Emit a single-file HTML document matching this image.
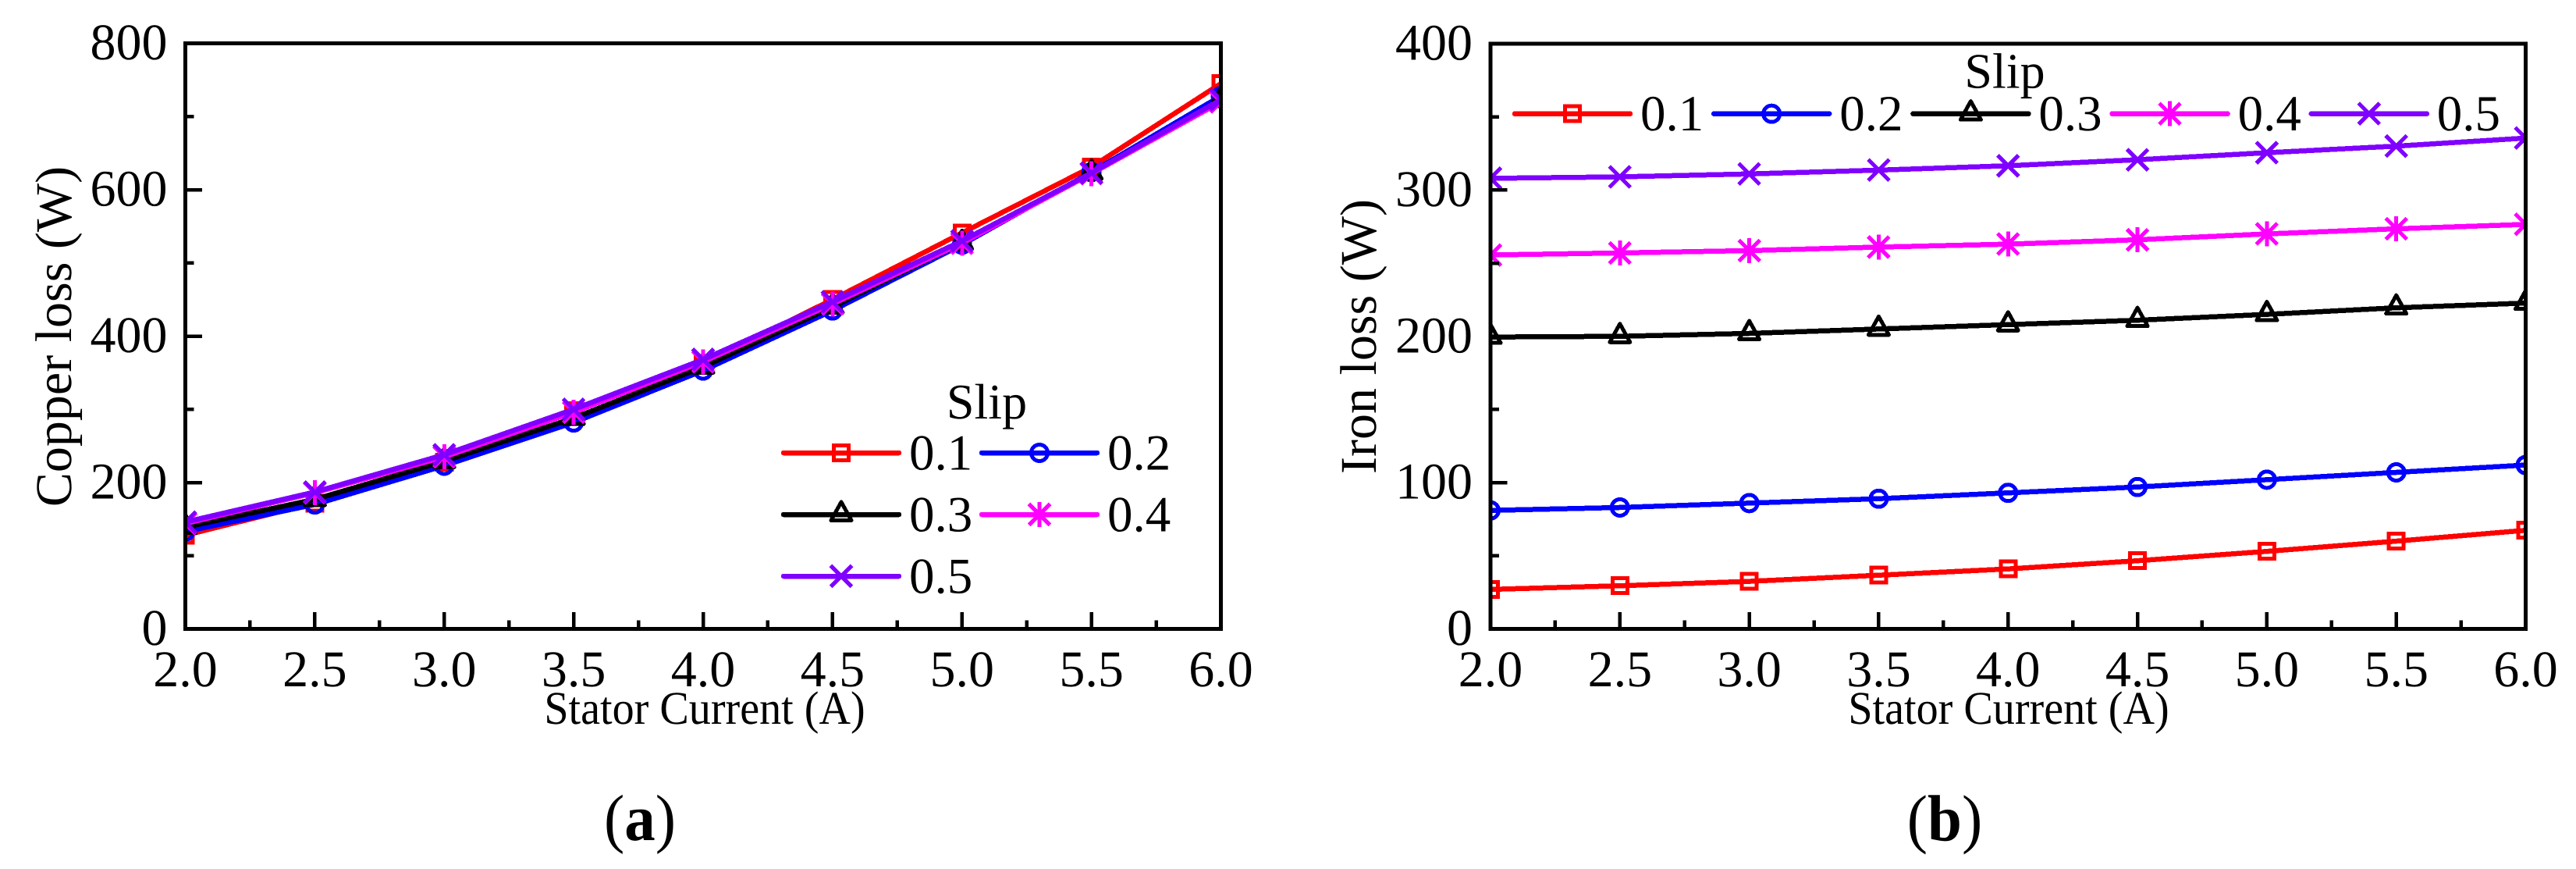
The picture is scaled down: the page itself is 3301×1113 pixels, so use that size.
<!DOCTYPE html>
<html lang="en">
<head>
<meta charset="utf-8">
<title>Copper loss and iron loss versus stator current</title>
<style>
html,body{margin:0;padding:0;background:#fff;}
body{width:3301px;height:1113px;overflow:hidden;}
svg{display:block;shape-rendering:crispEdges;}
text{font-family:"Liberation Serif","Times New Roman",serif;fill:#000;text-rendering:geometricPrecision;}
</style>
</head>
<body>
<svg id="figure" xmlns="http://www.w3.org/2000/svg" width="3301" height="1113" viewBox="0 0 3301 1113">
  <rect x="0" y="0" width="3301" height="1113" fill="#fff"/>
  <g id="panel-a"></g>
  <g id="panel-b"></g>

  <text font-size="66" text-anchor="middle" transform="translate(91 431) rotate(-90)">Copper loss (W)</text>
  <text font-size="60" text-anchor="middle" transform="translate(903 927) scale(0.935 1)">Stator Current (A)</text>
  <text font-size="64" text-anchor="middle" x="1264.5" y="536">Slip</text>
  <text font-size="84" text-anchor="middle" transform="translate(820 1076) scale(0.94 1)">(<tspan font-weight="bold">a</tspan>)</text>

  <text font-size="66" text-anchor="middle" transform="translate(1763 431) rotate(-90)">Iron loss (W)</text>
  <text font-size="60" text-anchor="middle" transform="translate(2574 927) scale(0.935 1)">Stator Current (A)</text>
  <text font-size="64" text-anchor="middle" x="2569" y="112.5">Slip</text>
  <text font-size="84" text-anchor="middle" transform="translate(2492 1076.5) scale(0.94 1)">(<tspan font-weight="bold">b</tspan>)</text>
</svg>

<script>
// Shared categories and labels
const statorCurrent = [2.0, 2.5, 3.0, 3.5, 4.0, 4.5, 5.0, 5.5, 6.0];
const xTickLabels = ['2.0', '2.5', '3.0', '3.5', '4.0', '4.5', '5.0', '5.5', '6.0'];
const slipLabels = ['0.1', '0.2', '0.3', '0.4', '0.5'];

// Panel (a): copper loss in watts
const copperSlip01 = [128, 172, 228, 298, 362, 450, 541, 631, 745];
const copperSlip02 = [133, 170, 223, 282, 353, 435, 525, 624, 728];
const copperSlip03 = [139, 177, 229, 288, 358, 440, 527, 623, 722];
const copperSlip04 = [144, 186, 235, 296, 365, 444, 527, 622, 720];
const copperSlip05 = [146, 187, 238, 300, 368, 447, 530, 623, 723];
const copperYTicks = [0, 200, 400, 600, 800];

// Panel (b): iron loss in watts
const ironSlip01 = [27, 29.5, 32.5, 36.7, 41, 46.6, 53, 60, 67.4];
const ironSlip02 = [81, 83, 86, 89, 93, 97, 102, 107, 112];
const ironSlip03 = [199.5, 200, 202, 205, 208, 211, 215, 219.5, 222.7];
const ironSlip04 = [255.6, 257, 258.6, 261, 263, 266, 270, 273.5, 276.5];
const ironSlip05 = [308, 309, 311, 313.6, 316.6, 320.7, 325.5, 330, 335.5];
const ironYTicks = [0, 100, 200, 300, 400];

const copperSeries = [copperSlip01, copperSlip02, copperSlip03, copperSlip04, copperSlip05];
const ironSeries = [ironSlip01, ironSlip02, ironSlip03, ironSlip04, ironSlip05];

const seriesColors = ['#ff0000', '#0000ff', '#000000', '#ff00ff', '#8000ff'];
const markerKinds = ['square', 'circle', 'triangle', 'asterisk', 'cross'];

const NS = 'http://www.w3.org/2000/svg';
function make(tag, attrs, parent) {
  const node = document.createElementNS(NS, tag);
  for (const key in attrs) node.setAttribute(key, attrs[key]);
  parent.appendChild(node);
  return node;
}

function drawMarker(parent, kind, cx, cy, color, markerName) {
  const g = make('g', {transform: 'translate(' + cx + ' ' + cy + ')', fill: 'none', stroke: color, 'stroke-width': 5}, parent);
  
  
  if (kind === 'square') {
    make('rect', {x: -9.5, y: -9.5, width: 19, height: 19}, g);
  } else if (kind === 'circle') {
    make('circle', {cx: 0, cy: 0, r: 10.5}, g);
  } else if (kind === 'triangle') {
    make('path', {d: 'M0 -16 L13 7.5 L-13 7.5 Z', 'stroke-linejoin': 'round'}, g);
  } else {
    make('path', {d: 'M-13.5 -13.5 L13.5 13.5 M-13.5 13.5 L13.5 -13.5'}, g);
    if (kind === 'asterisk') make('path', {d: 'M0 -16 L0 16'}, g);
  }
}

function drawPanel(root, prefix, series, yTicks, yMax, box, legend) {
  const xScale = function (v) { return box.left + (v - 2) / 4 * (box.right - box.left); };
  const yScale = function (v) { return box.bottom - v / yMax * (box.bottom - box.top); };

  const clip = make('clipPath', {id: prefix + '-clip'}, root);
  make('rect', {x: box.left, y: box.top, width: box.right - box.left, height: box.bottom - box.top}, clip);

  const plot = make('g', {'clip-path': 'url(#' + prefix + '-clip)'}, root);
  
  

  series.forEach(function (values, s) {
    const pts = values.map(function (v, i) { return xScale(statorCurrent[i]) + ',' + yScale(v); }).join(' ');
    const line = make('polyline', {points: pts, fill: 'none', stroke: seriesColors[s], 'stroke-width': box.lineWidth, 'stroke-linejoin': 'round'}, plot);
    
    
    values.forEach(function (v, i) {
      drawMarker(plot, markerKinds[s], xScale(statorCurrent[i]), yScale(v), seriesColors[s], prefix + '-point-slip-' + slipLabels[s] + '-' + xTickLabels[i]);
    });
  });

  // Frame
  const frame = make('rect', {x: box.left, y: box.top, width: box.right - box.left, height: box.bottom - box.top, fill: 'none', stroke: '#000', 'stroke-width': 5}, root);
  
  

  // X ticks
  statorCurrent.forEach(function (v, i) {
    const x = xScale(v);
    const tick = make('line', {x1: x, x2: x, y1: box.bottom, y2: box.bottom - 21.5, stroke: '#000', 'stroke-width': 4.5}, root);
    
    
    const label = make('text', {x: x, y: 879, 'font-size': 66, 'text-anchor': 'middle'}, root);
    label.textContent = xTickLabels[i];
    
    
    if (i < statorCurrent.length - 1) {
      const mx = xScale(v + 0.25);
      const minor = make('line', {x1: mx, x2: mx, y1: box.bottom, y2: box.bottom - 11, stroke: '#000', 'stroke-width': 4.5}, root);
      
      
    }
  });

  // Y ticks
  yTicks.forEach(function (v, i) {
    const y = yScale(v);
    const tick = make('line', {x1: box.left, x2: box.left + 21.5, y1: y, y2: y, stroke: '#000', 'stroke-width': 4.5}, root);
    
    
    const label = make('text', {x: box.left - 23, y: y + 20.5, 'font-size': 66, 'text-anchor': 'end'}, root);
    label.textContent = String(v);
    
    
    if (i < yTicks.length - 1) {
      const my = yScale((v + yTicks[i + 1]) / 2);
      const minor = make('line', {x1: box.left, x2: box.left + 11, y1: my, y2: my, stroke: '#000', 'stroke-width': 4.5}, root);
      
      
    }
  });

  // Legend
  const legendGroup = make('g', {}, root);
  
  
  slipLabels.forEach(function (name, s) {
    const col = s % legend.columns;
    const row = Math.floor(s / legend.columns);
    const lx = legend.x + col * legend.colStep;
    const ly = legend.y + row * legend.rowStep;
    const swatch = make('line', {x1: lx, x2: lx + 148, y1: ly, y2: ly, stroke: seriesColors[s], 'stroke-width': 6.5, 'stroke-linecap': 'round'}, legendGroup);
    
    
    drawMarker(legendGroup, markerKinds[s], lx + 74, ly, seriesColors[s], prefix + '-legend-marker-' + name);
    const label = make('text', {x: lx + 161, y: ly + 21.5, 'font-size': 65}, legendGroup);
    label.textContent = name;
    
    
  });
}

drawPanel(document.getElementById('panel-a'), 'copper', copperSeries, copperYTicks, 800,
  {left: 237.5, right: 1564.5, top: 55.5, bottom: 805.5, lineWidth: 6.5},
  {x: 1004, y: 580, columns: 2, colStep: 254, rowStep: 79});

drawPanel(document.getElementById('panel-b'), 'iron', ironSeries, ironYTicks, 400,
  {left: 1910, right: 3236.5, top: 56, bottom: 805.5, lineWidth: 6.5},
  {x: 1941, y: 145.7, columns: 5, colStep: 255.2, rowStep: 0});
</script>
</body>
</html>
